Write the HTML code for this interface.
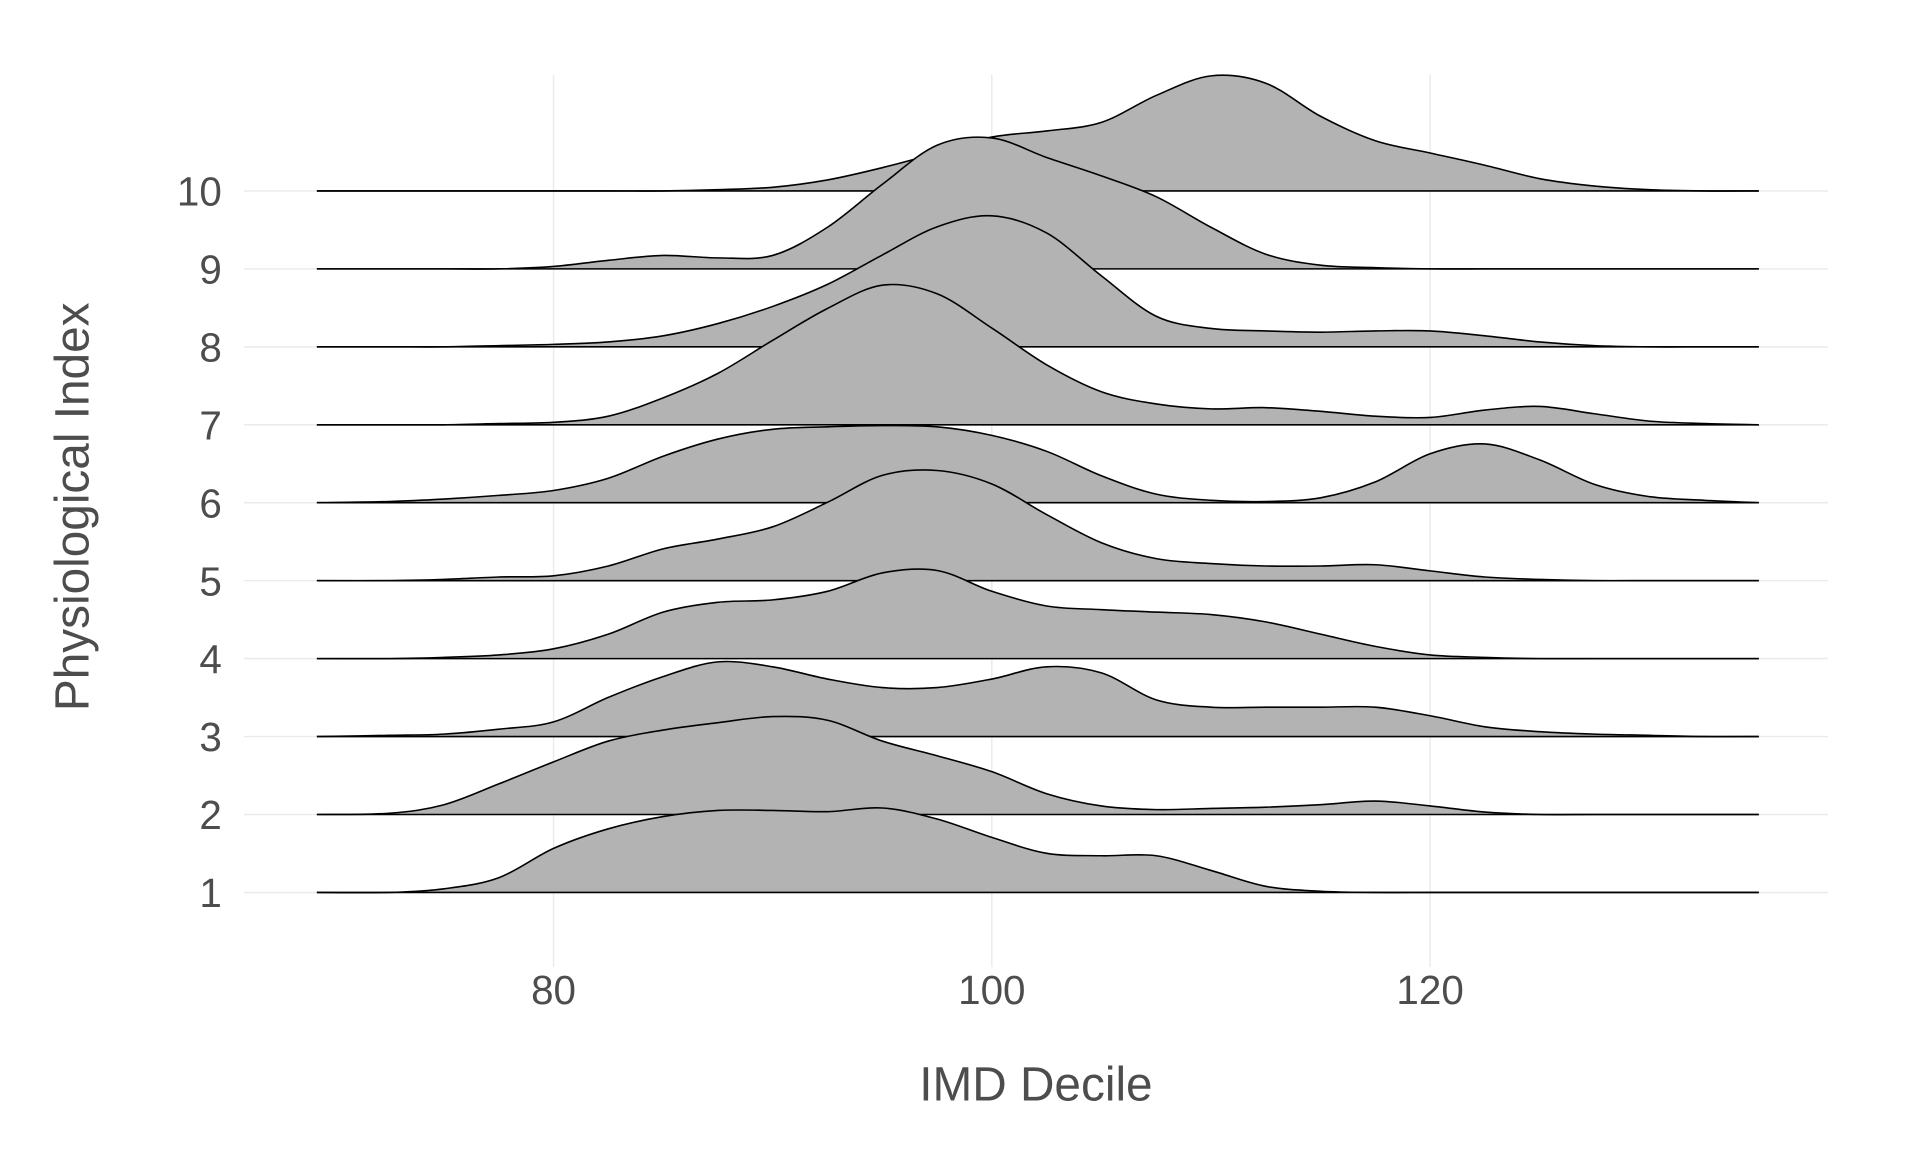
<!DOCTYPE html>
<html><head><meta charset="utf-8"><style>
html,body{margin:0;padding:0;background:#fff}
svg{display:block}
text{font-family:"Liberation Sans",Arial,sans-serif;fill:#4d4d4d}
</style></head><body>
<svg id="chart" width="1920" height="1152" viewBox="0 0 1568 941" xmlns="http://www.w3.org/2000/svg">
<g id="grid"></g>
<g id="ridges"></g>
<g id="axes"></g>
<text x="846" y="899" font-size="39" text-anchor="middle">IMD Decile</text>
<text x="0" y="0" font-size="39" text-anchor="middle" transform="translate(72,414) rotate(-90)">Physiological Index</text>
</svg>
<script>
const xGrid = [69.2,72.5,75,77.5,80,82.5,85,87.5,90,92.5,95,97.5,100,102.5,105,107.5,110,112.5,115,117.5,120,122.5,125,127.5,130,132.5,135];
const categories = [1,2,3,4,5,6,7,8,9,10];
const xTicks = [80,100,120];
const d1  = [0,0,0.03,0.12,0.36,0.52,0.62,0.67,0.67,0.66,0.69,0.60,0.45,0.32,0.30,0.30,0.18,0.05,0.01,0,0,0,0,0,0,0,0];
const d2  = [0,0.01,0.08,0.25,0.43,0.60,0.69,0.75,0.80,0.77,0.60,0.48,0.35,0.17,0.07,0.04,0.05,0.06,0.08,0.11,0.07,0.02,0,0,0,0,0];
const d3  = [0,0.01,0.02,0.06,0.12,0.32,0.49,0.61,0.57,0.47,0.40,0.40,0.47,0.57,0.52,0.30,0.24,0.24,0.24,0.24,0.17,0.08,0.04,0.02,0.01,0,0];
const d4  = [0,0,0.01,0.03,0.08,0.20,0.38,0.46,0.48,0.55,0.70,0.72,0.55,0.43,0.40,0.38,0.36,0.30,0.20,0.10,0.03,0.01,0,0,0,0,0];
const d5  = [0,0,0.01,0.03,0.04,0.12,0.26,0.34,0.44,0.64,0.86,0.90,0.79,0.54,0.31,0.18,0.14,0.12,0.12,0.13,0.08,0.03,0.01,0,0,0,0];
const d6  = [0,0.01,0.03,0.06,0.10,0.20,0.38,0.52,0.60,0.62,0.63,0.62,0.55,0.42,0.22,0.07,0.02,0.01,0.04,0.17,0.40,0.48,0.35,0.15,0.05,0.02,0];
const d7  = [0,0,0,0.01,0.02,0.07,0.22,0.42,0.69,0.95,1.14,1.07,0.79,0.49,0.27,0.17,0.13,0.14,0.11,0.07,0.06,0.12,0.15,0.09,0.03,0.01,0];
const d8  = [0,0,0,0.01,0.02,0.04,0.09,0.19,0.33,0.51,0.75,0.98,1.07,0.93,0.58,0.25,0.15,0.13,0.12,0.13,0.13,0.09,0.04,0.01,0,0,0];
const d9  = [0,0,0,0,0.02,0.07,0.11,0.09,0.11,0.34,0.69,1.01,1.07,0.91,0.76,0.59,0.34,0.12,0.03,0.01,0,0,0,0,0,0,0];
const d10 = [0,0,0,0,0,0,0,0.01,0.03,0.09,0.19,0.31,0.44,0.49,0.56,0.78,0.94,0.88,0.61,0.41,0.31,0.21,0.10,0.04,0.01,0,0];
const series = [d1,d2,d3,d4,d5,d6,d7,d8,d9,d10];

const NS="http://www.w3.org/2000/svg";
const xScale = v => 452 + (v-80)*17.9;
const yBase = c => 729 - (c-1)*63.67;
const hScale = 100;
function mk(tag, attrs, parent){const e=document.createElementNS(NS,tag);for(const k in attrs)e.setAttribute(k,attrs[k]);parent.appendChild(e);return e;}
const grid=document.getElementById('grid'), ridges=document.getElementById('ridges'), axes=document.getElementById('axes');
xTicks.forEach(v=>{const l=mk('line',{x1:xScale(v),x2:xScale(v),y1:61,y2:790,stroke:'#ebebeb','stroke-width':1.2},grid);


const t=mk('text',{x:xScale(v),y:820,'font-size':33,'text-anchor':'middle'},axes);t.textContent=v;

});
categories.forEach(c=>{const l=mk('line',{x1:199,x2:1493,y1:yBase(c),y2:yBase(c),stroke:'#ebebeb','stroke-width':1.2},grid);


const t=mk('text',{x:181,y:yBase(c)+12,'font-size':33,'text-anchor':'end'},axes);t.textContent=c;

});
function curve(pts){let d='M'+pts[0][0]+','+pts[0][1];
for(let i=0;i<pts.length-1;i++){const p0=pts[Math.max(0,i-1)],p1=pts[i],p2=pts[i+1],p3=pts[Math.min(pts.length-1,i+2)];
const c1=[p1[0]+(p2[0]-p0[0])/6,p1[1]+(p2[1]-p0[1])/6],c2=[p2[0]-(p3[0]-p1[0])/6,p2[1]-(p3[1]-p1[1])/6];
d+=' C'+c1.join(',')+' '+c2.join(',')+' '+p2.join(',');}return d;}
for(let i=series.length-1;i>=0;i--){const c=categories[i],b=yBase(c);
const pts=xGrid.map((x,j)=>[xScale(x),b-series[i][j]*hScale]);
const top=curve(pts);
const f=mk('path',{d:top+' L'+xScale(xGrid[xGrid.length-1])+','+b+' L'+xScale(xGrid[0])+','+b+' Z',fill:'#b3b3b3',stroke:'none'},ridges);


const o=mk('path',{d:top,fill:'none',stroke:'#000','stroke-width':1.3},ridges);


const bl=mk('line',{x1:xScale(xGrid[0]),x2:xScale(xGrid[xGrid.length-1]),y1:b,y2:b,stroke:'#000','stroke-width':1.3},ridges);

}
</script>
</body></html>
